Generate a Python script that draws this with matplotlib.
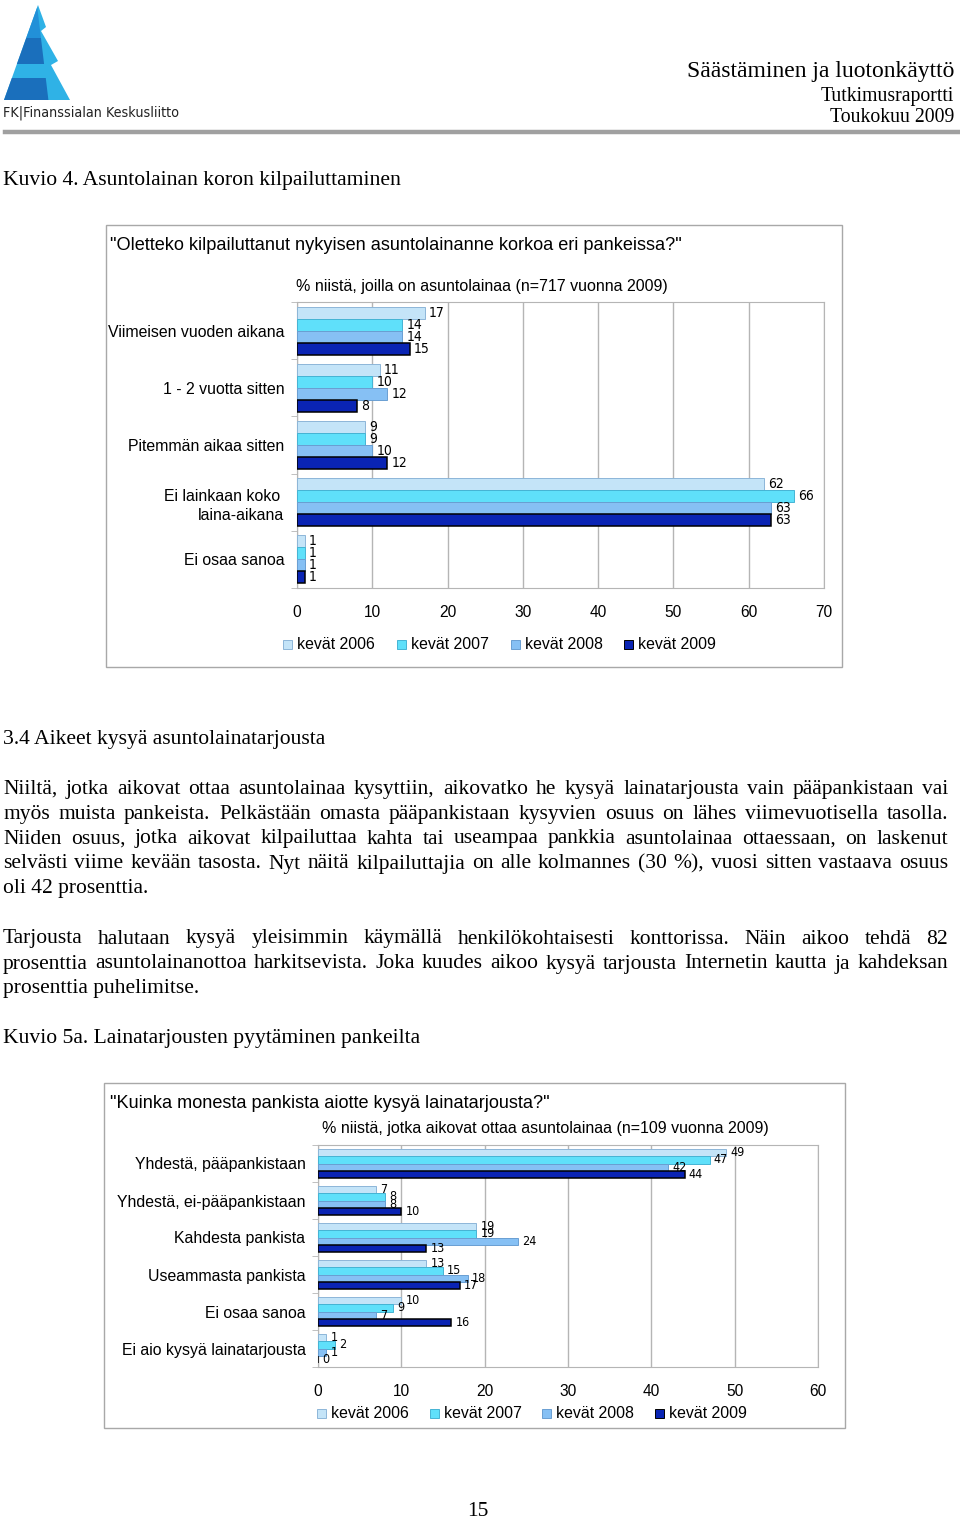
import matplotlib
matplotlib.use('Agg')
import matplotlib.pyplot as plt
from matplotlib import font_manager
from matplotlib.font_manager import FontProperties
from matplotlib.patches import Rectangle, Polygon
from matplotlib.lines import Line2D
import numpy as np

W, H = 960, 1522

# series shared by both charts
series = ['kevät 2006', 'kevät 2007', 'kevät 2008', 'kevät 2009']
colors = ['#c4e4f8', '#5fe0fa', '#86c0f4', '#0a24b4']
edges = ['#8db6d8', '#45b4d4', '#6a9fd2', '#000000']

# Kuvio 4
q1_cats = ['Viimeisen vuoden aikana', '1 - 2 vuotta sitten', 'Pitemmän aikaa sitten',
           'Ei lainkaan koko \nlaina-aikana', 'Ei osaa sanoa']
q1_2006 = [17, 11, 9, 62, 1]
q1_2007 = [14, 10, 9, 66, 1]
q1_2008 = [14, 12, 10, 63, 1]
q1_2009 = [15, 8, 12, 63, 1]

# Kuvio 5a
q2_cats = ['Yhdestä, pääpankistaan', 'Yhdestä, ei-pääpankistaan', 'Kahdesta pankista',
           'Useammasta pankista', 'Ei osaa sanoa', 'Ei aio kysyä lainatarjousta']
q2_2006 = [49, 7, 19, 13, 10, 1]
q2_2007 = [47, 8, 19, 15, 9, 2]
q2_2008 = [42, 8, 24, 18, 7, 1]
q2_2009 = [44, 10, 13, 17, 16, 0]

para1 = ["Niiltä, jotka aikovat ottaa asuntolainaa kysyttiin, aikovatko he kysyä lainatarjousta vain pääpankistaan vai",
         "myös muista pankeista. Pelkästään omasta pääpankistaan kysyvien osuus on lähes viimevuotisella tasolla.",
         "Niiden osuus, jotka aikovat kilpailuttaa kahta tai useampaa pankkia asuntolainaa ottaessaan, on laskenut",
         "selvästi viime kevään tasosta. Nyt näitä kilpailuttajia on alle kolmannes (30 %), vuosi sitten vastaava osuus",
         "oli 42 prosenttia."]
para2 = ["Tarjousta halutaan kysyä yleisimmin käymällä henkilökohtaisesti konttorissa. Näin aikoo tehdä 82",
         "prosenttia asuntolainanottoa harkitsevista. Joka kuudes aikoo kysyä tarjousta Internetin kautta ja kahdeksan",
         "prosenttia puhelimitse."]

SERIF = 'Liberation Serif'
SANS = 'Liberation Sans'
GRID = '#b5b5b5'

# a narrow face for the logo text and the bar labels, if one is installed
narrow_file = None
for key in ('LiberationSansNarrow-Regular', 'DejaVuSansCondensed.ttf'):
    for f in font_manager.fontManager.ttflist:
        if key in f.fname:
            narrow_file = f.fname
            break
    if narrow_file:
        break


def narrow(size):
    if narrow_file:
        return FontProperties(fname=narrow_file, size=size)
    return FontProperties(family=SANS, size=size)


fig = plt.figure(figsize=(W / 100, H / 100), dpi=100)
fig.patch.set_facecolor('white')


def fx(x):
    return x / W


def fy(y):
    return 1 - y / H


def txt(x, y, s, size, family=SERIF, ha='left', **kw):
    return fig.text(fx(x), fy(y), s, fontsize=size, family=family, ha=ha, va='center', **kw)


def justify(line, y, x0=3, x1=948, size=15.5):
    words = line.split()
    texts = [txt(0, y, w, size) for w in words]
    r = fig.canvas.get_renderer()
    widths = [t.get_window_extent(r).width for t in texts]
    gap = (x1 - x0 - sum(widths)) / (len(words) - 1)
    x = x0
    for t, w in zip(texts, widths):
        t.set_x(fx(x))
        x += w + gap


def box(x0, y0, x1, y1):
    fig.patches.append(Rectangle((fx(x0), fy(y1)), (x1 - x0) / W, (y1 - y0) / H,
                                 transform=fig.transFigure, fill=False, edgecolor='#a8a8a8', lw=1))


def legend(xs, y):
    for lab, c, e, x in zip(series, colors, edges, xs):
        fig.patches.append(Rectangle((fx(x - 4.5), fy(y + 4.5)), 9 / W, 9 / H, transform=fig.transFigure,
                                     facecolor=c, edgecolor=e, lw=0.7))
        txt(x + 10, y, lab, 11.4, SANS)


def chart(px, cats, data, xmax, h, labsize):
    x0, y0, x1, y1 = px
    ax = fig.add_axes([fx(x0), fy(y1), (x1 - x0) / W, (y1 - y0) / H])
    n = len(cats)
    y = np.arange(n)
    for i, (vals, c, e) in enumerate(zip(data, colors, edges)):
        bars = ax.barh(y + (i - 1.5) * h, vals, height=h, color=c, edgecolor=e,
                       linewidth=1.1 if i == 3 else 0.7, zorder=3)
        for b, v in zip(bars, vals):
            ax.annotate(str(v), (v, b.get_y() + b.get_height() / 2), xytext=(3, 0),
                        textcoords='offset points', va='center', ha='left',
                        fontproperties=narrow(labsize), zorder=4)
    ax.set_xlim(0, xmax)
    ax.set_ylim(n - 0.5, -0.5)
    ax.set_xticks(range(0, xmax + 1, 10))
    ax.xaxis.grid(True, color=GRID, lw=1)
    ax.set_axisbelow(True)
    ax.set_yticks(y)
    ax.set_yticklabels(cats, fontsize=11.4, family=SANS, linespacing=1.4)
    ax.set_yticks(np.arange(n + 1) - 0.5, minor=True)
    ax.tick_params(axis='y', which='major', length=0, pad=9)
    ax.tick_params(axis='y', which='minor', length=4, color=GRID, direction='out')
    ax.tick_params(axis='x', length=0, pad=12, labelsize=11.2)
    for lab in ax.get_xticklabels():
        lab.set_family(SANS)
    for s in ax.spines.values():
        s.set_color(GRID)
    return ax


# header: logo
light, dark, mid = '#2fb2e6', '#1a6fbc', '#2290d8'
sil = [(38, 5), (46, 27), (41, 31), (58, 61), (51, 65), (70, 100), (4, 100)]
base = Polygon([(fx(a), fy(b)) for a, b in sil], closed=True, transform=fig.transFigure,
               facecolor=light, edgecolor='none')
fig.patches.append(base)
for ya, yb, col in [(5, 38, mid), (38, 64, dark), (78, 100, dark)]:
    band = Polygon([(fx(0), fy(ya)), (fx(37 + (ya - 5) * 0.12), fy(ya)),
                    (fx(37 + (yb - 5) * 0.12), fy(yb)), (fx(0), fy(yb))],
                   closed=True, transform=fig.transFigure, facecolor=col, edgecolor='none')
    band.set_clip_path(base)
    fig.patches.append(band)
logo = fig.text(fx(3), fy(113), 'FK|Finanssialan Keskusliitto', fontproperties=narrow(13),
                va='center', ha='left', color='#222222')
r = fig.canvas.get_renderer()
lw_ = logo.get_window_extent(r).width
logo.set_fontproperties(narrow(13 * 176 / lw_))

txt(954, 71, 'Säästäminen ja luotonkäyttö', 17, ha='right')
txt(954, 96, 'Tutkimusraportti', 14.2, ha='right')
txt(954, 118, 'Toukokuu 2009', 14.2, ha='right')
fig.add_artist(Line2D([fx(5), fx(960)], [fy(132), fy(132)], color='#a0a0a0', lw=3.2))

txt(3, 181, 'Kuvio 4. Asuntolainan koron kilpailuttaminen', 15.6)

# chart 1
box(106, 225, 842, 667)
txt(110, 246, '"Oletteko kilpailuttanut nykyisen asuntolainanne korkoa eri pankeissa?"', 13.1, SANS)
txt(482, 286, '% niistä, joilla on asuntolainaa (n=717 vuonna 2009)', 11.5, SANS, ha='center')
chart((297, 302, 824, 588), q1_cats, [q1_2006, q1_2007, q1_2008, q1_2009], 70, 0.21, 10)
legend([287, 401, 515, 628], 644)

# text
txt(3, 739, '3.4 Aikeet kysyä asuntolainatarjousta', 15.6)
for k, line in enumerate(para1):
    if k < len(para1) - 1:
        justify(line, 789 + 25 * k)
    else:
        txt(3, 789 + 25 * k, line, 15.5)
for k, line in enumerate(para2):
    if k < len(para2) - 1:
        justify(line, 939 + 25 * k)
    else:
        txt(3, 939 + 25 * k, line, 15.5)
txt(3, 1039, 'Kuvio 5a. Lainatarjousten pyytäminen pankeilta', 15.6)

# chart 2
box(104, 1083, 845, 1428)
txt(110, 1103, '"Kuinka monesta pankista aiotte kysyä lainatarjousta?"', 13.1, SANS)
txt(545, 1129, '% niistä, jotka aikovat ottaa asuntolainaa (n=109 vuonna 2009)', 11.5, SANS, ha='center')
chart((318, 1145, 818, 1367), q2_cats, [q2_2006, q2_2007, q2_2008, q2_2009], 60, 0.2, 9)
legend([321, 434, 546, 659], 1413)

txt(478, 1511, '15', 15.5, ha='center')

fig.savefig('out.png', dpi=100)
